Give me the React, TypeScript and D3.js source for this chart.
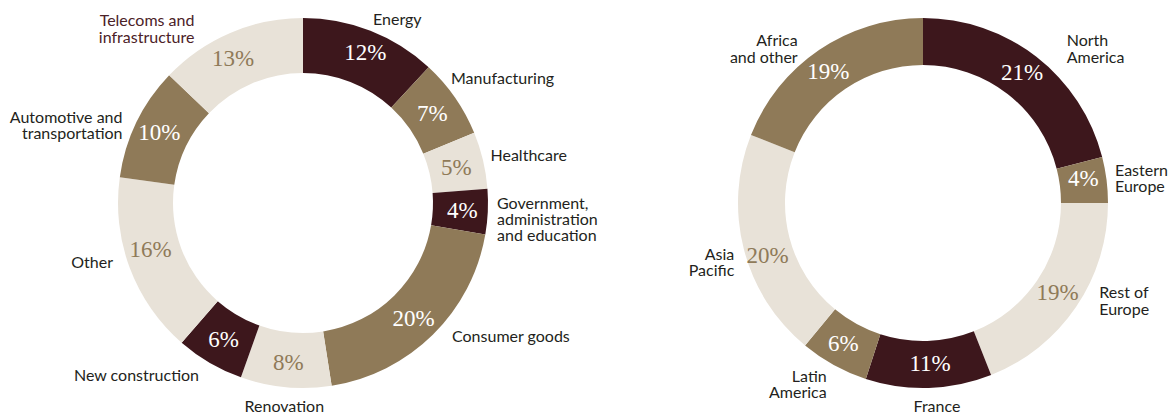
import React from "react";
import * as d3 from "d3";

// ---- Data ----
const sectorCategories = [
  "Energy",
  "Manufacturing",
  "Healthcare",
  "Government,\nadministration\nand education",
  "Consumer goods",
  "Renovation",
  "New construction",
  "Other",
  "Automotive and\ntransportation",
  "Telecoms and\ninfrastructure",
];
const sectorValues = [12, 7, 5, 4, 20, 8, 6, 16, 10, 13];

const regionCategories = [
  "North\nAmerica",
  "Eastern\nEurope",
  "Rest of\nEurope",
  "France",
  "Latin\nAmerica",
  "Asia\nPacific",
  "Africa\nand other",
];
const regionValues = [21, 4, 19, 11, 6, 20, 19];

// ---- Styles ----
const DARK = "#3d171c";
const BROWN = "#8f7a58";
const BEIGE = "#e8e2d8";
const TEXT = "#231f20";
const MAROON_TEXT = "#4b2127";

const sectorColors = [DARK, BROWN, BEIGE, DARK, BROWN, BEIGE, DARK, BEIGE, BROWN, BEIGE];
const regionColors = [DARK, BROWN, BEIGE, DARK, BROWN, BEIGE, BROWN];

type LabelPos = { dx: number; dy: number; anchor: string; color?: string };

// outer label placement relative to donut centre
const sectorLabelLayout: LabelPos[] = [
  { dx: 70, dy: -184, anchor: "start" },
  { dx: 148, dy: -125, anchor: "start" },
  { dx: 187.5, dy: -48, anchor: "start" },
  { dx: 194, dy: 0, anchor: "start" },
  { dx: 149, dy: 133.5, anchor: "start" },
  { dx: -18.7, dy: 203, anchor: "middle" },
  { dx: -104, dy: 172, anchor: "end" },
  { dx: -190, dy: 59, anchor: "end" },
  { dx: -180.5, dy: -86, anchor: "end" },
  { dx: -108.6, dy: -182.3, anchor: "end", color: MAROON_TEXT },
];
const regionLabelLayout: LabelPos[] = [
  { dx: 143.7, dy: -162.3, anchor: "start" },
  { dx: 192, dy: -33, anchor: "start" },
  { dx: 176.3, dy: 89.7, anchor: "start" },
  { dx: 14, dy: 203, anchor: "middle" },
  { dx: -96.3, dy: 173, anchor: "end" },
  { dx: -188.7, dy: 51.3, anchor: "end" },
  { dx: -125.3, dy: -162.3, anchor: "end" },
];

// small nudges for percentage labels (relative to arc centroid)
const sectorPctNudge = [[5, -4], [0, 0], [0, 0], [2, 0], [0, 3], [0, 2], [0, 0], [-5, -9], [-2, -2], [-8, 0]];
const regionPctNudge = [[0, -3], [0, -5], [1, -2], [2, -1], [-2, -2], [1, 12], [-4, 2]];

const W = 1170;
const H = 416;

type DonutProps = {
  cx: number;
  cy: number;
  outer: number;
  inner: number;
  categories: string[];
  values: number[];
  colors: string[];
  layout: LabelPos[];
  nudge: number[][];
};

function Donut({ cx, cy, outer, inner, categories, values, colors, layout, nudge }: DonutProps) {
  const pie = d3.pie<number>().sort(null).value((d) => d);
  const arcs = pie(values);
  const arcGen = d3.arc<d3.PieArcDatum<number>>().innerRadius(inner).outerRadius(outer);
  const mid = (inner + outer) / 2;
  const labelArc = d3.arc<d3.PieArcDatum<number>>().innerRadius(mid).outerRadius(mid);
  const lineH = 16.3;
  return (
    <g transform={`translate(${cx},${cy})`}>
      {arcs.map((a, i) => (
        <path key={"s" + i} d={arcGen(a) || ""} fill={colors[i]} />
      ))}
      {arcs.map((a, i) => {
        const [x, y] = labelArc.centroid(a);
        const fill = colors[i] === BEIGE ? BROWN : "#ffffff";
        return (
          <text
            key={"p" + i}
            x={x + nudge[i][0]}
            y={y + nudge[i][1]}
            dy="0.35em"
            textAnchor="middle"
            fill={fill}
            style={{ fontFamily: "'Liberation Serif', serif", fontSize: 23 }}
          >
            {values[i]}%
          </text>
        );
      })}
      {categories.map((c, i) => {
        const lines = c.split("\n");
        const L = layout[i];
        return (
          <text
            key={"l" + i}
            textAnchor={L.anchor}
            fill={L.color || TEXT}
            style={{ fontFamily: "Lato, sans-serif", fontSize: 16 }}
          >
            {lines.map((ln, j) => (
              <tspan key={j} x={L.dx} y={L.dy + j * lineH} dy="0.35em">
                {ln}
              </tspan>
            ))}
          </text>
        );
      })}
    </g>
  );
}

export default function App() {
  return (
    <svg
      width={W}
      height={H}
      viewBox={`0 0 ${W} ${H}`}
      style={{ position: "absolute", left: 0, top: 0, background: "#fff" }}
    >
      <Donut
        cx={303}
        cy={203}
        outer={185}
        inner={130}
        categories={sectorCategories}
        values={sectorValues}
        colors={sectorColors}
        layout={sectorLabelLayout}
        nudge={sectorPctNudge}
      />
      <Donut
        cx={923}
        cy={203}
        outer={185}
        inner={138}
        categories={regionCategories}
        values={regionValues}
        colors={regionColors}
        layout={regionLabelLayout}
        nudge={regionPctNudge}
      />
    </svg>
  );
}
